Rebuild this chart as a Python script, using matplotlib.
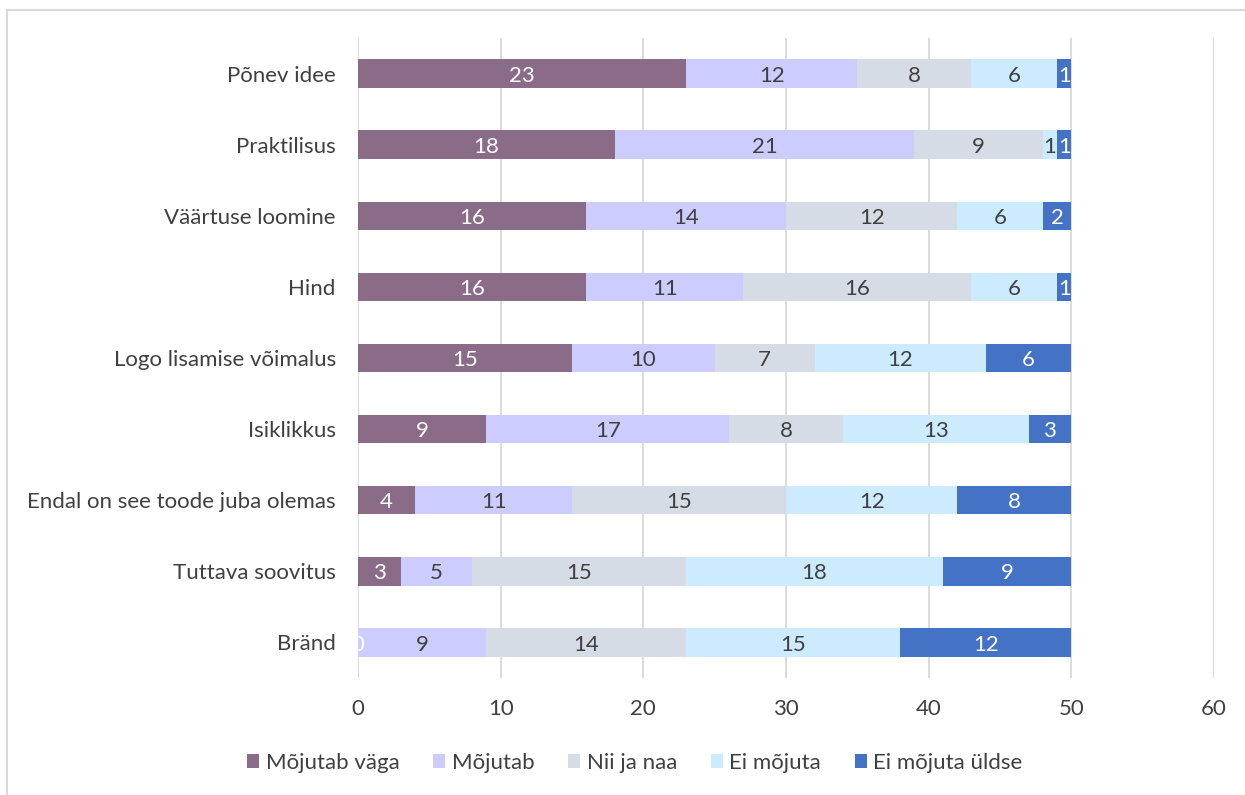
import matplotlib.pyplot as plt
import matplotlib.lines as mlines
import numpy as np

plt.rcParams['font.family'] = ['Lato', 'DejaVu Sans']

# Categories, listed top to bottom
categories = ["Põnev idee", "Praktilisus", "Väärtuse loomine", "Hind",
              "Logo lisamise võimalus", "Isiklikkus", "Endal on see toode juba olemas",
              "Tuttava soovitus", "Bränd"]

series_names = ["Mõjutab väga", "Mõjutab", "Nii ja naa", "Ei mõjuta", "Ei mõjuta üldse"]
mojutab_vaga = [23, 18, 16, 16, 15, 9, 4, 3, 0]
mojutab = [12, 21, 14, 11, 10, 17, 11, 5, 9]
nii_ja_naa = [8, 9, 12, 16, 7, 8, 15, 15, 14]
ei_mojuta = [6, 1, 6, 6, 12, 13, 12, 18, 15]
ei_mojuta_uldse = [1, 1, 2, 1, 6, 3, 8, 9, 12]

colors = ["#8A6B88", "#CCCCFF", "#D6DCE5", "#CCEBFF", "#4472C4"]
label_colors = ["white", "#404040", "#404040", "#404040", "white"]
fs = 16

fig = plt.figure(figsize=(12.45, 7.95), dpi=100)
ax = fig.add_axes([0.2876, 0.1472, 0.6875, 0.805])

y = np.arange(len(categories))
left = np.zeros(len(categories))
all_series = [mojutab_vaga, mojutab, nii_ja_naa, ei_mojuta, ei_mojuta_uldse]
for name, vals, col, tcol in zip(series_names, all_series, colors, label_colors):
    vals = np.array(vals, dtype=float)
    ax.barh(y, vals, left=left, height=0.4, color=col, label=name, zorder=3)
    for yi, l, v in zip(y, left, vals):
        ax.text(l + v / 2, yi + 0.03, f"{int(v)}", ha='center', va='center',
                color=tcol, fontsize=fs, zorder=4)
    left += vals

ax.set_ylim(len(categories) - 0.5, -0.5)
ax.set_xlim(0, 60)
ax.set_xticks(range(0, 61, 10))
ax.set_yticks(y)
ax.set_yticklabels(categories)
ax.tick_params(axis='both', length=0, labelsize=fs, colors="#404040")
ax.tick_params(axis='y', pad=16)
ax.tick_params(axis='x', pad=15)
ax.grid(axis='x', color="#D9D9D9", linewidth=1.3, zorder=0)
for s in ax.spines.values():
    s.set_visible(False)

ax.legend(loc='center', bbox_to_anchor=(0.51, 1 - 763 / 795), ncol=5, frameon=False,
          fontsize=fs, handlelength=0.55, handleheight=0.55, handletextpad=0.3,
          columnspacing=1.5, labelcolor="#404040",
          bbox_transform=fig.transFigure)

# Light outer frame (top and left edges)
fig.add_artist(mlines.Line2D([7 / 1245, 7 / 1245], [0, 1 - 10 / 795],
                             color="#D9D9D9", lw=1.5, transform=fig.transFigure))
fig.add_artist(mlines.Line2D([7 / 1245, 1], [1 - 10 / 795, 1 - 10 / 795],
                             color="#D9D9D9", lw=1.5, transform=fig.transFigure))

fig.savefig("out.png", dpi=100)
